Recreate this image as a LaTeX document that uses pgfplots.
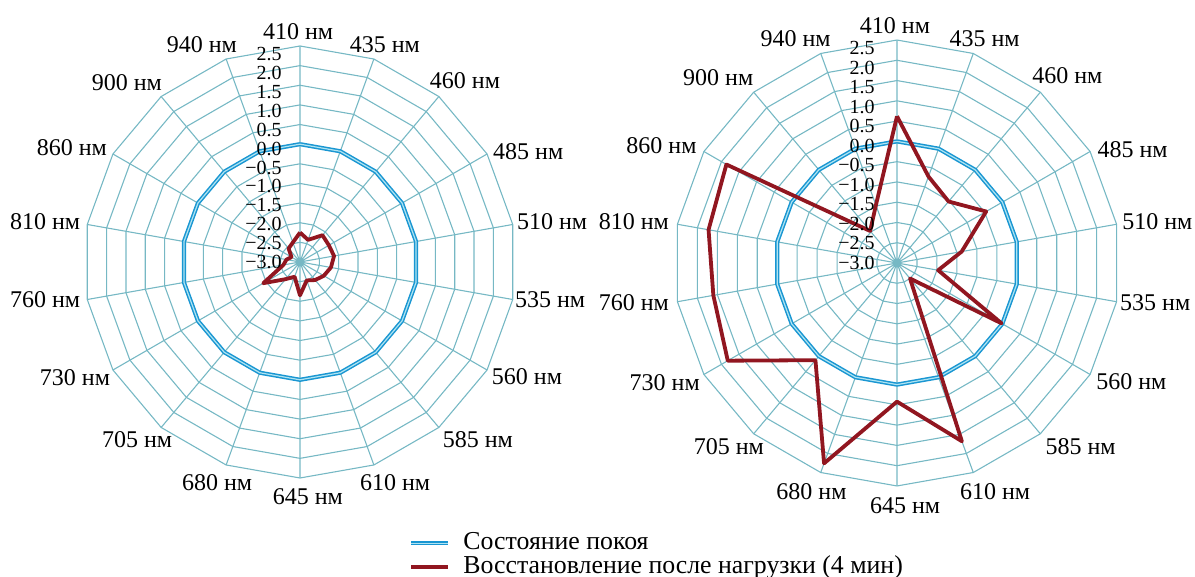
\documentclass[border=0pt]{standalone}
\usepackage{fontspec}
\setmainfont{Liberation Serif}
\usepackage{pgfplots}
\usepackage{pgfplotstable}
\pgfplotsset{compat=1.18}

\definecolor{gridc}{RGB}{118,184,196}
\definecolor{restblue}{RGB}{25,150,210}
\definecolor{restlight}{RGB}{175,228,242}
\definecolor{recred}{RGB}{145,22,32}

% angles of the 18 categories (closing row repeated)
\pgfplotstableread{
a d
90 0
70 0
50 0
30 0
10 0
-10 0
-30 0
-50 0
-70 0
-90 0
-110 0
-130 0
-150 0
-170 0
-190 0
-210 0
-230 0
-250 0
-270 0
}\angles

\pgfplotstableread{
a r
90 5.5
90 0
70 5.5
70 0
50 5.5
50 0
30 5.5
30 0
10 5.5
10 0
-10 5.5
-10 0
-30 5.5
-30 0
-50 5.5
-50 0
-70 5.5
-70 0
-90 5.5
-90 0
-110 5.5
-110 0
-130 5.5
-130 0
-150 5.5
-150 0
-170 5.5
-170 0
-190 5.5
-190 0
-210 5.5
-210 0
-230 5.5
-230 0
-250 5.5
-250 0
}\spokes

% resting state (both charts)
\pgfplotstableread{
a v
90 0.0
70 0.0
50 0.0
30 0.0
10 0.0
-10 0.0
-30 0.0
-50 0.0
-70 0.0
-90 0.0
-110 0.0
-130 0.0
-150 0.0
-170 0.0
-190 0.0
-210 0.0
-230 0.0
-250 0.0
-270 0.0
}\rest

% left chart, recovery
\pgfplotstableread{
a v
90 -2.25
70 -2.40
50 -2.11
30 -2.15
10 -2.12
-10 -2.20
-30 -2.30
-50 -2.40
-70 -2.50
-90 -2.15
-110 -2.60
-130 -2.43
-150 -1.92
-170 -2.57
-190 -2.65
-210 -2.75
-230 -2.55
-250 -2.47
-270 -2.25
}\recL

% right chart, recovery
\pgfplotstableread{
a v
90 0.62
70 -0.73
50 -1.02
30 -0.46
10 -1.38
-10 -1.97
-30 -0.02
-50 -2.50
-70 1.68
-90 0.42
-110 2.26
-130 0.13
-150 1.82
-170 1.60
-190 1.72
-210 1.86
-230 -1.97
-250 -1.48
-270 0.62
}\recR

\newcommand{\catfont}{\fontsize{12}{12}\selectfont}
\newcommand{\tickfont}{\fontsize{10}{10}\selectfont}

\newcommand{\radargrid}{%
  \pgfplotsinvokeforeach{0.5,1.0,...,5.5}{%
    \addplot[gridc, line width=0.55pt, forget plot]
      table[x expr={##1*cos(\thisrow{a})}, y expr={##1*sin(\thisrow{a})}] \angles;}
  \addplot[gridc, line width=0.55pt, forget plot]
    table[x expr={\thisrow{r}*cos(\thisrow{a})}, y expr={\thisrow{r}*sin(\thisrow{a})}] \spokes;
  \node[font=\catfont] at (axis cs:-0.05,5.86) {410 нм};
  \node[font=\catfont] at (axis cs:2.16,5.53) {435 нм};
  \node[font=\catfont] at (axis cs:4.20,4.63) {460 нм};
  \node[font=\catfont] at (axis cs:5.81,2.80) {485 нм};
  \node[font=\catfont] at (axis cs:6.42,1.02) {510 нм};
  \node[font=\catfont] at (axis cs:6.37,-0.97) {535 нм};
  \node[font=\catfont] at (axis cs:5.78,-2.93) {560 нм};
  \node[font=\catfont] at (axis cs:4.53,-4.53) {585 нм};
  \node[font=\catfont] at (axis cs:2.42,-5.63) {610 нм};
  \node[font=\catfont] at (axis cs:0.20,-5.98) {645 нм};
  \node[font=\catfont] at (axis cs:-2.11,-5.63) {680 нм};
  \node[font=\catfont] at (axis cs:-4.15,-4.53) {705 нм};
  \node[font=\catfont] at (axis cs:-5.73,-2.95) {730 нм};
  \node[font=\catfont] at (axis cs:-6.49,-0.97) {760 нм};
  \node[font=\catfont] at (axis cs:-6.49,1.02) {810 нм};
  \node[font=\catfont] at (axis cs:-5.81,2.90) {860 нм};
  \node[font=\catfont] at (axis cs:-4.41,4.56) {900 нм};
  \node[font=\catfont] at (axis cs:-2.50,5.53) {940 нм};
}

\newcommand{\radarticks}[1]{%
  \node[anchor=east, inner sep=0pt, font=\tickfont] at (axis cs:-#1,5.294) {2.5};
  \node[anchor=east, inner sep=0pt, font=\tickfont] at (axis cs:-#1,4.8125) {2.0};
  \node[anchor=east, inner sep=0pt, font=\tickfont] at (axis cs:-#1,4.331) {1.5};
  \node[anchor=east, inner sep=0pt, font=\tickfont] at (axis cs:-#1,3.85) {1.0};
  \node[anchor=east, inner sep=0pt, font=\tickfont] at (axis cs:-#1,3.369) {0.5};
  \node[anchor=east, inner sep=0pt, font=\tickfont] at (axis cs:-#1,2.8875) {0.0};
  \node[anchor=east, inner sep=0pt, font=\tickfont] at (axis cs:-#1,2.406) {−0.5};
  \node[anchor=east, inner sep=0pt, font=\tickfont] at (axis cs:-#1,1.925) {−1.0};
  \node[anchor=east, inner sep=0pt, font=\tickfont] at (axis cs:-#1,1.444) {−1.5};
  \node[anchor=east, inner sep=0pt, font=\tickfont] at (axis cs:-#1,0.9625) {−2.0};
  \node[anchor=east, inner sep=0pt, font=\tickfont] at (axis cs:-#1,0.481) {−2.5};
  \node[anchor=east, inner sep=0pt, font=\tickfont] at (axis cs:-#1,0.0) {−3.0};
}

\pgfplotsset{
  radar/.style={anchor=center, xmin=-5.5, xmax=5.5, ymin=-5.5, ymax=5.5,
    hide axis, clip=false},
  restline/.style={restblue, line width=0.75pt, double=restlight,
    double distance=0.6pt, line join=round},
  recline/.style={recred, line width=1.9pt, line join=round},
}

\begin{document}
\begin{tikzpicture}
\useasboundingbox (0,0) rectangle (597.5pt,288.5pt);

\begin{axis}[radar, at={(150pt,157.5pt)}, x=19.636pt, y=19.636pt,
  legend cell align=left,
  legend image code/.code={\draw[#1] (0pt,0pt) -- (18.5pt,0pt);},
  legend style={at={(axis description cs:0.752,-0.125)}, anchor=north west,
    draw=none, fill=none, inner sep=0pt, row sep=1pt, column sep=6.5pt,
    font=\fontsize{12.9}{12.9}\selectfont,
    nodes={inner sep=0pt, text height=8.4pt, text depth=2.6pt}}]
  \radargrid
  \addplot[restline] table[x expr={(\thisrow{v}+3)*cos(\thisrow{a})},
    y expr={(\thisrow{v}+3)*sin(\thisrow{a})}] \rest;
  \addlegendentry{Состояние покоя}
  \addplot[recline] table[x expr={(\thisrow{v}+3)*cos(\thisrow{a})},
    y expr={(\thisrow{v}+3)*sin(\thisrow{a})}] \recL;
  \addlegendentry{Восстановление после нагрузки (4 мин)}
  \radarticks{0.46}
\end{axis}

\begin{axis}[radar, at={(448.5pt,157pt)}, x=20.27pt, y=20.27pt]
  \radargrid
  \addplot[restline] table[x expr={(\thisrow{v}+3)*cos(\thisrow{a})},
    y expr={(\thisrow{v}+3)*sin(\thisrow{a})}] \rest;
  \addplot[recline] table[x expr={(\thisrow{v}+3)*cos(\thisrow{a})},
    y expr={(\thisrow{v}+3)*sin(\thisrow{a})}] \recR;
  \radarticks{0.54}
\end{axis}
\end{tikzpicture}
\end{document}
